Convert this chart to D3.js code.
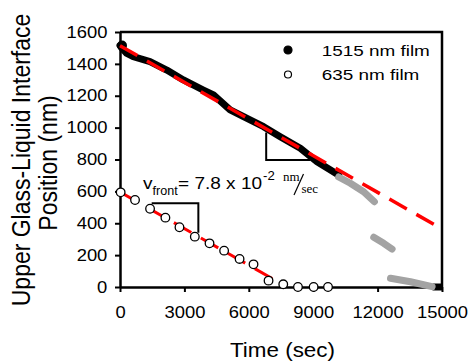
<!DOCTYPE html>
<html>
<head>
<meta charset="utf-8">
<script src="https://cdn.jsdelivr.net/npm/d3@7"></script>
<style>
  body { margin: 0; background: #fff; }
  svg text { font-family: "Liberation Sans", Arial, sans-serif; fill: #000; }
</style>
</head>
<body>
<script>
// 1515 nm film, black part (time sec, position nm)
const film1515 = [
  [0, 1515], [80, 1500], [300, 1468], [620, 1445], [1400, 1414], [2180, 1361],
  [2955, 1299], [3885, 1236], [4355, 1205], [5130, 1111], [5755, 1069],
  [6690, 1006], [7465, 943], [8400, 870], [9180, 786], [10185, 703]
];
const film1515End = [[14560, 0], [15000, 0]];
// 1515 nm film, gray parts
const film1515Gray = [
  [[10185, 690], [10730, 651], [11350, 598], [11850, 535]],
  [[11820, 312], [12285, 274], [12675, 238]],
  [[12600, 55], [13530, 33], [14540, 2]]
];
// 635 nm film
const film635 = [
  [30, 594], [700, 546], [1400, 491], [2115, 435], [2770, 375], [3485, 316],
  [4170, 274], [4850, 228], [5570, 176], [6220, 142], [6920, 40], [7605, 17],
  [8290, 0], [9020, 0], [9690, 0]
];
// linear fits
const fit1515 = [[0, 1514], [15000, 364]];
const fit635 = [[0, 596], [7550, 18]];
// slope triangles
const tri635 = [[1475, 525], [3650, 525], [3650, 341]];
const tri1515 = [[6810, 970], [6810, 797], [8865, 797]];

const xTicks = [0, 3000, 6000, 9000, 12000, 15000];
const yTicks = [0, 200, 400, 600, 800, 1000, 1200, 1400, 1600];
const legendItems = ['1515 nm film', '635 nm film'];

const width = 471, height = 363;
const svg = d3.select('body').append('svg')
  .attr('width', width)
  .attr('height', height);

const x = d3.scaleLinear().domain([0, 15000]).range([120, 442]);
const y = d3.scaleLinear().domain([0, 1600]).range([287, 32]);
const line = d3.line().x(d => x(d[0])).y(d => y(d[1]));

// frame (top and right)
svg.append('path')
  .attr('d', `M${x(0)},${y(1600)}H${x(15000)}V${y(0)}`)
  .attr('fill', 'none').attr('stroke', '#000').attr('stroke-width', 2.5);

// axes
const xAxis = svg.append('g')
  .attr('transform', `translate(0,${y(0)})`)
  .call(d3.axisBottom(x).tickValues(xTicks).tickFormat(d3.format('d')).tickSize(5).tickSizeOuter(0).tickPadding(15));
const yAxis = svg.append('g')
  .attr('transform', `translate(${x(0)},0)`)
  .call(d3.axisLeft(y).tickValues(yTicks).tickFormat(d3.format('d')).tickSize(5).tickSizeOuter(0).tickPadding(6));
[xAxis, yAxis].forEach(g => {
  g.select('.domain').attr('stroke', '#000').attr('stroke-width', 2.5);
  g.selectAll('.tick line').attr('stroke', '#000').attr('stroke-width', 2);
  g.selectAll('.tick text')
    .attr('font-size', 16)
    .attr('font-family', '"Liberation Sans", Arial, sans-serif')
    .attr('transform', 'scale(1.15,1)');
});

// 1515 nm film data
svg.append('path').datum(film1515)
  .attr('d', line).attr('fill', 'none').attr('stroke', '#000')
  .attr('stroke-width', 7).attr('stroke-linecap', 'round').attr('stroke-linejoin', 'round');
svg.append('circle').attr('cx', x(film1515[0][0]) + 2).attr('cy', y(film1515[0][1]))
  .attr('r', 5).attr('fill', '#000');
svg.append('path').datum(film1515End)
  .attr('d', line).attr('fill', 'none').attr('stroke', '#000').attr('stroke-width', 7);
svg.selectAll('.gray').data(film1515Gray).enter().append('path')
  .attr('d', line).attr('fill', 'none').attr('stroke', '#a3a3a3')
  .attr('stroke-width', 7).attr('stroke-linecap', 'round').attr('stroke-linejoin', 'round');

// fits
[fit1515, fit635].forEach((f, i) => {
  svg.append('path').datum(f)
    .attr('d', line).attr('fill', 'none').attr('stroke', '#ff0000')
    .attr('stroke-width', i === 0 ? 3.5 : 3).attr('stroke-dasharray', '20,11');
});

// 635 nm film points
svg.selectAll('.open').data(film635).enter().append('circle')
  .attr('cx', d => x(d[0])).attr('cy', d => y(d[1])).attr('r', 4.3)
  .attr('fill', '#fff').attr('stroke', '#000').attr('stroke-width', 1.3);

// slope triangles
[tri635, tri1515].forEach(t => {
  svg.append('path').datum(t)
    .attr('d', line).attr('fill', 'none').attr('stroke', '#000').attr('stroke-width', 2);
});

function label(px, py, str, size, sx, opts = {}) {
  const t = svg.append('text')
    .attr('transform', `translate(${px},${py}) scale(${sx},1)` + (opts.rotate ? ' rotate(-90)' : ''))
    .attr('font-size', size)
    .attr('text-anchor', opts.anchor || 'start')
    .text(str);
  if (opts.serif) t.style('font-family', '"Liberation Serif", "Times New Roman", serif');
  return t;
}

// velocity annotation
label(143, 189, 'v', 17, 1.12);
label(152.5, 195, 'front', 12, 1.05);
label(178, 189, '= 7.8 x 10', 17, 1.12);
label(263, 180, '-2', 12, 1.1);
label(283, 181, 'nm', 13, 1, { serif: true });
svg.append('line').attr('x1', 303.5).attr('y1', 174).attr('x2', 294).attr('y2', 195)
  .attr('stroke', '#000').attr('stroke-width', 1.2);
label(301.5, 193, 'sec', 13, 1, { serif: true });

// legend
legendItems.forEach((name, i) => {
  const cy = 50 + i * 24.5;
  svg.append('circle').attr('cx', 288).attr('cy', cy).attr('r', i === 0 ? 4 : 3.5)
    .attr('fill', i === 0 ? '#000' : '#fff').attr('stroke', '#000').attr('stroke-width', 1.2);
  label(321.7, cy + 5.5, name, 15.5, 1.22);
});

// axis titles
label(282.5, 357, 'Time (sec)', 19.5, 1.15, { anchor: 'middle' });
label(29.5, 160, 'Upper Glass-Liquid Interface', 23, 1.1, { anchor: 'middle', rotate: true });
label(56.5, 163, 'Position (nm)', 23, 1.1, { anchor: 'middle', rotate: true });
</script>
</body>
</html>
